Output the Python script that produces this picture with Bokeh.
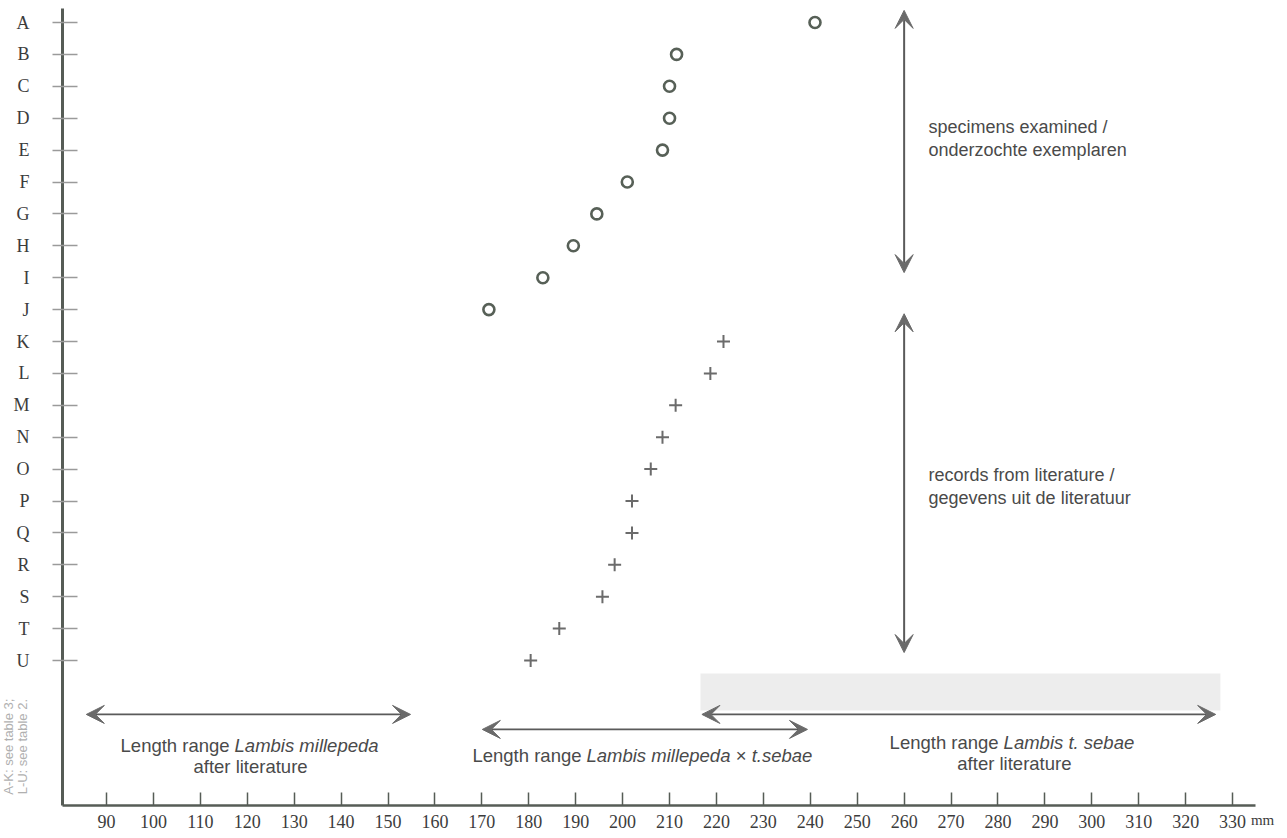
import math
from bokeh.plotting import figure
from bokeh.models import Range1d, FixedTicker, Arrow, VeeHead, Label
from bokeh.embed import file_html
from bokeh.resources import INLINE

# ---------------- data ----------------
letters = list("ABCDEFGHIJKLMNOPQRSTU")

examined_ids = list("ABCDEFGHIJ")
examined_mm = [241.0, 211.5, 210.0, 210.0, 208.5, 201.0, 194.5, 189.5, 183.0, 171.5]

literature_ids = list("KLMNOPQRSTU")
literature_mm = [221.5, 218.7, 211.3, 208.5, 206.0, 202.0, 202.0, 198.3, 195.7, 186.5, 180.4]

x_ticks = list(range(90, 331, 10))

# literature length ranges (mm)
range_names = ["Lambis millepeda", "Lambis millepeda x t.sebae", "Lambis t. sebae"]
range_start = [85.7, 170.1, 216.9]
range_end = [154.8, 239.4, 326.4]

# ---------------- helpers ----------------
ypos = {l: len(letters) - 1 - i for i, l in enumerate(letters)}
ex_y = [ypos[l] for l in examined_ids]
lit_y = [ypos[l] for l in literature_ids]

DARK = "#565c56"
TXT = "#4a4a4a"
SANS = "Liberation Sans"
SERIF = "Liberation Serif"

X_AXIS_MIN, X_AXIS_MAX = 80.62, 334.9
Y_AXIS_MIN, Y_AXIS_MAX = -4.55, 20.44

p = figure(width=1285, height=836, output_backend="svg", toolbar_location=None,
           x_range=Range1d(67.41, 341.28), y_range=Range1d(-5.517, 20.69),
           min_border=0, min_border_left=0, min_border_right=0,
           min_border_top=0, min_border_bottom=0)
p.outline_line_color = None
p.xgrid.visible = False
p.ygrid.visible = False
p.background_fill_color = "white"
p.border_fill_color = "white"

# y axis (letters)
ya = p.yaxis[0]
ya.fixed_location = X_AXIS_MIN
ya.bounds = (Y_AXIS_MIN, Y_AXIS_MAX)
ya.ticker = FixedTicker(ticks=[ypos[l] for l in letters])
ya.major_label_overrides = {ypos[l]: l for l in letters}
ya.axis_line_color = DARK
ya.axis_line_width = 3
ya.major_tick_line_color = "#9a9a9a"
ya.major_tick_line_width = 1.5
ya.major_tick_in = 15
ya.major_tick_out = 10
ya.minor_tick_line_color = None
ya.major_label_text_font = SERIF
ya.major_label_text_font_size = "18px"
ya.major_label_text_color = "#3c3c3c"
ya.major_label_standoff = 23

# x axis (mm)
xa = p.xaxis[0]
xa.fixed_location = Y_AXIS_MIN
xa.bounds = (X_AXIS_MIN, X_AXIS_MAX)
xa.ticker = FixedTicker(ticks=x_ticks)
xa.axis_line_color = DARK
xa.axis_line_width = 2.5
xa.major_tick_line_color = DARK
xa.major_tick_line_width = 1.5
xa.major_tick_in = 13
xa.major_tick_out = 0
xa.minor_tick_line_color = None
xa.major_label_text_font = SERIF
xa.major_label_text_font_size = "18px"
xa.major_label_text_color = "#3c3c3c"
xa.major_label_standoff = 9

# scan shading band (top right of the lower area)
p.quad(left=[216.6], right=[327.4], top=[-0.41], bottom=[-1.57],
       fill_color="#ebebeb", fill_alpha=0.9, line_color=None)

# points
p.scatter(examined_mm, ex_y, marker="circle", size=11, fill_color=None,
          line_color="#576057", line_width=2.6)
p.scatter(literature_mm, lit_y, marker="cross", size=13,
          line_color="#6b6b6b", line_width=2)


def darrow(x0, y0, x1, y1, lw=1.6):
    p.add_layout(Arrow(x_start=x0, y_start=y0, x_end=x1, y_end=y1,
                       line_color="#5a5a5a", line_width=lw,
                       start=VeeHead(size=18, fill_color="#6a6a6a", line_color="#6a6a6a"),
                       end=VeeHead(size=18, fill_color="#6a6a6a", line_color="#6a6a6a")))


# vertical arrows
darrow(260, ypos["A"] + 0.38, 260, ypos["I"] + 0.16, 2)
darrow(260, ypos["J"] - 0.13, 260, ypos["U"] + 0.25, 2)

# horizontal range arrows
range_y = [-1.69, -2.16, -1.69]
for s, e, y in zip(range_start, range_end, range_y):
    darrow(s, y, e, y, 1.6)


def lab(x, y, t, italic=False, align="left", size="18.5px", color=TXT):
    p.add_layout(Label(x=x, y=y, text=t, text_font=SANS, text_font_size=size,
                       text_color=color, text_align=align, text_baseline="middle",
                       text_font_style="italic" if italic else "normal"))


# side texts
lab(265.2, 16.71, "specimens examined /", size="18px")
lab(265.2, 15.99, "onderzochte exemplaren", size="18px")
lab(265.2, 5.80, "records from literature /", size="18px")
lab(265.2, 5.11, "gegevens uit de literatuur", size="18px")

# range texts
lab(93.0, -2.67, "Length range")
lab(117.3, -2.67, range_names[0], italic=True)
lab(120.7, -3.33, "after literature", align="center")

lab(168.0, -2.98, "Length range")
lab(192.3, -2.98, "Lambis millepeda", italic=True)
lab(224.1, -2.98, "×")
lab(227.5, -2.98, "t.sebae", italic=True)

lab(256.9, -2.57, "Length range")
lab(281.2, -2.57, range_names[2], italic=True)
lab(283.5, -3.23, "after literature", align="center")

# unit label
p.add_layout(Label(x=336.4, y=-5.0, text="mm", text_font=SERIF, text_font_size="15px",
                   text_color="#3c3c3c", text_align="center", text_baseline="middle"))

# rotated note
p.add_layout(Label(x=69.2, y=-2.7, text="A-K: see table 3;",
                   angle=math.pi / 2, text_font=SANS, text_font_size="13px",
                   text_color="#b0b0b0", text_align="center", text_baseline="middle"))
p.add_layout(Label(x=72.0, y=-2.7, text="L-U: see table 2.",
                   angle=math.pi / 2, text_font=SANS, text_font_size="13px",
                   text_color="#b0b0b0", text_align="center", text_baseline="middle"))

open("out.html", "w").write(file_html(p, INLINE))
